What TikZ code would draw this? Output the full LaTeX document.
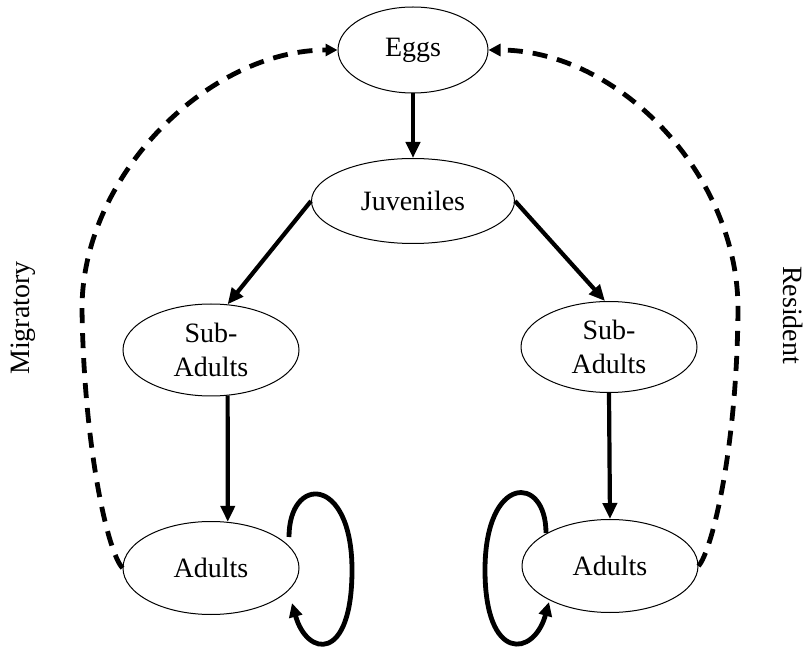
\documentclass[tikz,border=0pt]{standalone}
\usepackage{fontspec}
\setmainfont{Liberation Serif}
\usetikzlibrary{shapes.geometric,arrows.meta,calc}
\begin{document}
\begin{tikzpicture}[x=1pt,y=1pt,
  stage/.style={draw,ellipse,line width=1pt,inner sep=0pt,align=center,font=\fontsize{28}{34}\selectfont},
  flow/.style={line width=4.2pt,-{Triangle[length=16pt,width=14pt]}},
  loopflow/.style={line width=4.8pt,-{Triangle[length=14pt,width=13pt]}},
  migr/.style={line width=4.8pt,dash pattern=on 15pt off 10pt,-{Triangle[length=12pt,width=12pt]}},
  lab/.style={font=\fontsize{28}{34}\selectfont}]
\useasboundingbox (0,0) rectangle (812,649);
% stages
\node[stage,minimum width=150pt,minimum height=86pt] (eggs) at (413,599) {Eggs};
\node[stage,minimum width=203pt,minimum height=85pt] (juv) at (413,448) {Juveniles};
\node[stage,minimum width=176pt,minimum height=92pt] (subL) at (211,299) {Sub-\\Adults};
\node[stage,minimum width=176pt,minimum height=91pt] (subR) at (609,302) {Sub-\\Adults};
\node[stage,minimum width=176pt,minimum height=93pt] (adL) at (211,81) {Adults};
\node[stage,minimum width=176pt,minimum height=93pt] (adR) at (610,83) {Adults};
% labels
\node[lab,rotate=90] (mig) at (23,331) {Migratory};
\node[lab,rotate=-90] (res) at (793,334) {Resident};
% development arrows
\draw[flow] (eggs.south) -- (juv.north);
\draw[flow] (juv.west) -- (subL.70);
\draw[flow] (juv.east) -- (subR.95);
\draw[flow] (subL.-70) -- (adL.70);
\draw[flow] (subR.south) -- (adR.north);
% self loops
\coordinate (lsL) at ($(adL.center)+(78,31)$);
\coordinate (leL) at ($(adL.center)+(81,-35)$);
\coordinate (lsR) at ($(adR.center)+(-64,33)$);
\coordinate (leR) at ($(adR.center)+(-61,-36)$);
\draw[loopflow] (lsL) .. controls (289,174) and (352,174) .. (352,79)
  .. controls (352,-14) and (307,-8) .. (leL);
\draw[loopflow] (lsR) .. controls (546,175) and (485,175) .. (485,79)
  .. controls (485,-14) and (534,-8) .. (leR);
% return to eggs
\draw[migr] (adL.west) .. controls (108,96) and (84,200) .. (82,340)
  .. controls (82,475) and (210,599) .. (eggs.west);
\draw[migr] (adR.east) .. controls (712,98) and (737,200) .. (738,340)
  .. controls (738,475) and (618,599) .. (eggs.east);
\end{tikzpicture}
\end{document}
